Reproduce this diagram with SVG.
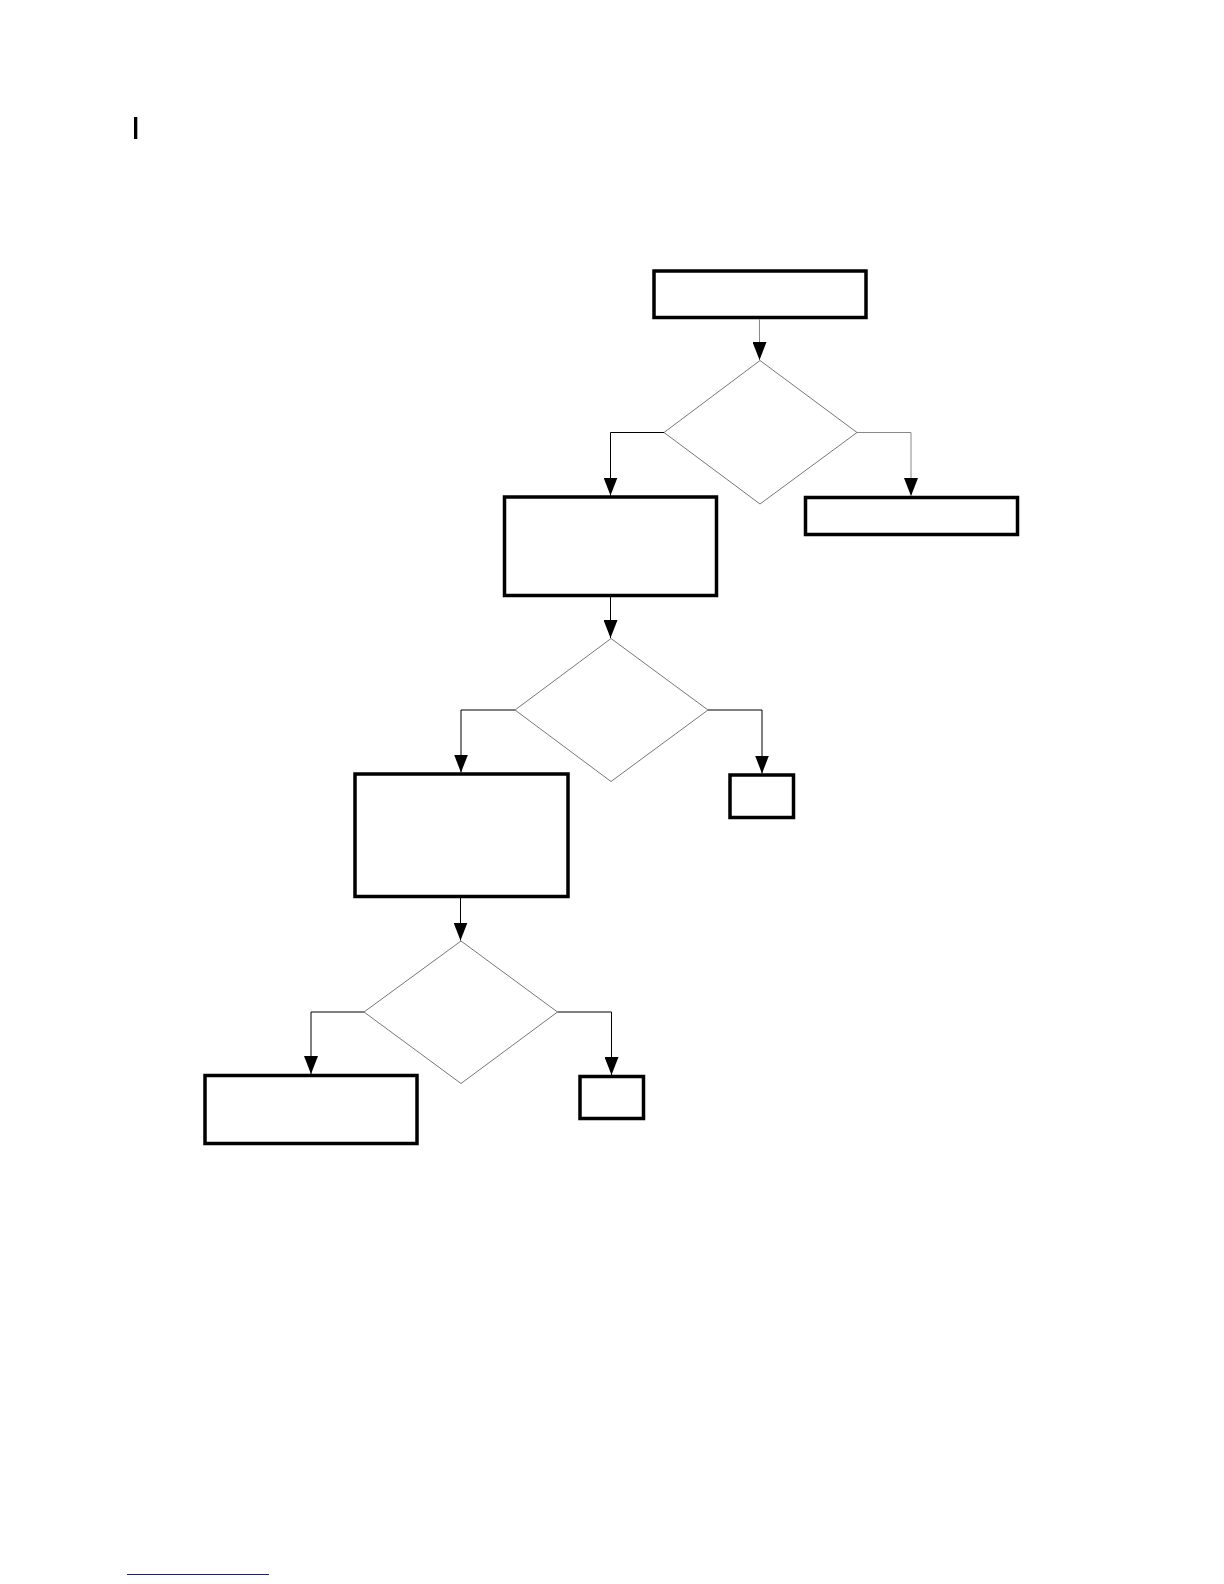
<svg xmlns="http://www.w3.org/2000/svg" width="1224" height="1584" viewBox="0 0 1224 1584">
<style>
.box{fill:#fff;stroke:#000;stroke-width:3.5}
.dia{fill:#fff;stroke:#777;stroke-width:1}
.con{fill:none;stroke:#000;stroke-width:1}
.gray{stroke:#888}
</style>
<defs>
<marker id="arr" markerUnits="userSpaceOnUse" markerWidth="18" markerHeight="14" refX="18" refY="7" orient="auto">
<path d="M0,0 L18,7 L0,14 z" fill="#000"/>
</marker>
</defs>
<rect x="134" y="117" width="3.3" height="22" fill="#000"/>
<g id="start"><rect class="box" x="654" y="271" width="212" height="46.5"/></g>
<g id="decision1"><polygon class="dia" points="760,360.5 857,432.5 760,504 664,432.5"/></g>
<g id="box1"><rect class="box" x="504.5" y="497" width="212" height="98.5"/></g>
<g id="box1r"><rect class="box" x="805.5" y="497.5" width="212" height="37"/></g>
<g id="decision2"><polygon class="dia" points="611,638.5 708,710 611,781.5 515,710"/></g>
<g id="box2"><rect class="box" x="355" y="774" width="213" height="122.5"/></g>
<g id="box2r"><rect class="box" x="730" y="775" width="63.5" height="42.5"/></g>
<g id="decision3"><polygon class="dia" points="461,941 557.5,1012 461,1083.5 364,1012"/></g>
<g id="box3"><rect class="box" x="205" y="1075.5" width="212" height="68"/></g>
<g id="box3r"><rect class="box" x="580" y="1076.5" width="63.5" height="42"/></g>
<g id="connectors">
<path class="con gray" d="M759.5,319 V360" marker-end="url(#arr)"/>
<path class="con" d="M664,432.5 H610.5 V495.5" marker-end="url(#arr)"/>
<path class="con gray" d="M857,432.5 H911 V496" marker-end="url(#arr)"/>
<path class="con" d="M610.5,597 V638" marker-end="url(#arr)"/>
<path class="con" d="M515,710 H461 V772.5" marker-end="url(#arr)"/>
<path class="con" d="M708,710 H762 V773.5" marker-end="url(#arr)"/>
<path class="con" d="M460.5,898 V940.5" marker-end="url(#arr)"/>
<path class="con" d="M364,1012 H311 V1074" marker-end="url(#arr)"/>
<path class="con" d="M557.5,1012 H611.5 V1075" marker-end="url(#arr)"/>
</g>
<line x1="127" y1="1574.5" x2="269" y2="1574.5" stroke="#1a1a8a" stroke-width="1.2"/>
</svg>
